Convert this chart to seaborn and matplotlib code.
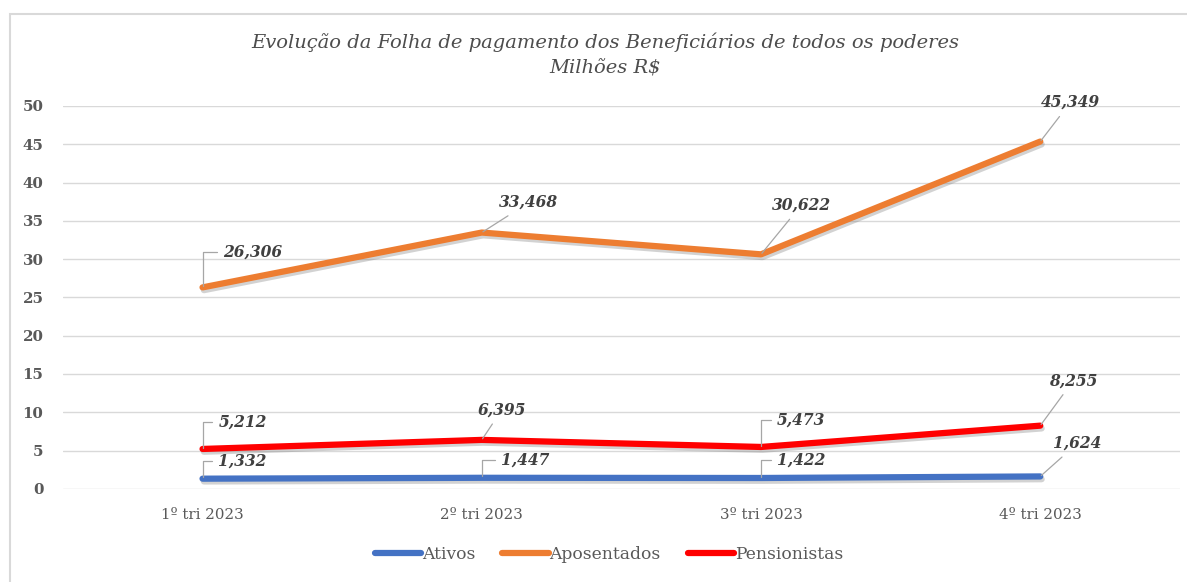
"""
Evolução da folha de pagamento dos beneficiários - line chart with data labels
"""

import pandas as pd
import matplotlib.pyplot as plt
import matplotlib.patheffects as pe
from matplotlib.patches import Rectangle
import seaborn as sns

trimestres = ["1º tri 2023", "2º tri 2023", "3º tri 2023", "4º tri 2023"]
ativos = [1.332, 1.447, 1.422, 1.624]
aposentados = [26.306, 33.468, 30.622, 45.349]
pensionistas = [5.212, 6.395, 5.473, 8.255]
series_names = ["Ativos", "Aposentados", "Pensionistas"]

colors = {"Ativos": "#4472C4", "Aposentados": "#ED7D31", "Pensionistas": "#FF0000"}

df = pd.DataFrame({
    "trimestre": trimestres * 3,
    "x": list(range(len(trimestres))) * 3,
    "valor": ativos + aposentados + pensionistas,
    "serie": [s for s in series_names for _ in trimestres],
})

# label offsets in pixels (dx, dy) and leader style per point
label_style = {
    "Aposentados": [(50, 35, "elbow"), (47, 30, "diag"), (40, 49, "diag"), (30, 39, "diag")],
    "Pensionistas": [(40, 27, "elbow"), (20, 30, "diag"), (40, 27, "elbow"), (33, 45, "diag")],
    "Ativos": [(40, 18, "elbow"), (43, 18, "elbow"), (40, 18, "elbow"), (37, 33, "diag")],
}

sns.set_style("white")
plt.rcParams["font.family"] = ["DejaVu Serif"]

fig = plt.figure(figsize=(11.87, 5.82), dpi=100)
ax = fig.add_axes([0.053, 0.160, 0.941, 0.658])

shadow = [pe.SimpleLineShadow(offset=(1, -2), shadow_color="gray", alpha=0.35), pe.Normal()]
sns.lineplot(data=df, x="x", y="valor", hue="serie", hue_order=series_names,
             palette=colors, linewidth=4.5, ax=ax, legend=False,
             solid_capstyle="round")
for line in ax.get_lines():
    line.set_path_effects(shadow)

for name in series_names:
    sub = df[df["serie"] == name]
    for (xv, yv), (dx, dy, kind) in zip(sub[["x", "valor"]].values, label_style[name]):
        txt = f"{yv:.3f}".replace(".", ",")
        if kind == "elbow":
            cs = "angle,angleA=0,angleB=90,rad=0"
        else:
            cs = "arc3,rad=0"
        ax.annotate(txt, xy=(xv, yv), xytext=(dx, dy), textcoords="offset pixels",
                    ha="center", va="center", fontsize=11.2, fontweight="bold",
                    fontstyle="italic", color="#404040",
                    arrowprops=dict(arrowstyle="-", color="#A6A6A6", lw=0.9,
                                    connectionstyle=cs, shrinkA=2, shrinkB=1))

ax.set_xlim(-0.5, 3.5)
ax.set_ylim(0, 50)
ax.set_yticks(range(0, 51, 5))
ax.set_xticks(range(len(trimestres)))
ax.set_xticklabels(trimestres)
ax.grid(axis="y", color="#D9D9D9", linewidth=1)
ax.set_axisbelow(True)
for s in ax.spines.values():
    s.set_visible(False)
ax.tick_params(axis="both", length=0)
ax.tick_params(axis="y", pad=14, labelsize=10.8, labelcolor="#595959")
ax.tick_params(axis="x", pad=14, labelsize=10.8, labelcolor="#595959")
for lab in ax.get_yticklabels():
    lab.set_fontweight("bold")
ax.set_xlabel("")
ax.set_ylabel("")

fig.text(0.51, 0.928, "Evolução da Folha de pagamento dos Beneficiários de todos os poderes",
         ha="center", va="center", fontsize=14, fontstyle="italic", color="#4d4d4d")
fig.text(0.51, 0.883, "Milhões R$", ha="center", va="center", fontsize=14,
         fontstyle="italic", color="#4d4d4d")

handles = [plt.Line2D([], [], color=colors[n], linewidth=4.5, solid_capstyle="round") for n in series_names]
fig.legend(handles, series_names, loc="center", bbox_to_anchor=(0.513, 0.048), ncol=3,
           frameon=False, fontsize=12.3, handlelength=2.7, handletextpad=0.05,
           columnspacing=1.6, labelcolor="#595959")

# outer chart border (top and left visible in the original)
fig.patches.append(Rectangle((0.0088, -0.01), 1.0, 0.986, transform=fig.transFigure,
                             fill=False, edgecolor="#D9D9D9", linewidth=1.5))

fig.savefig("out.png", dpi=100)
plt.close()
